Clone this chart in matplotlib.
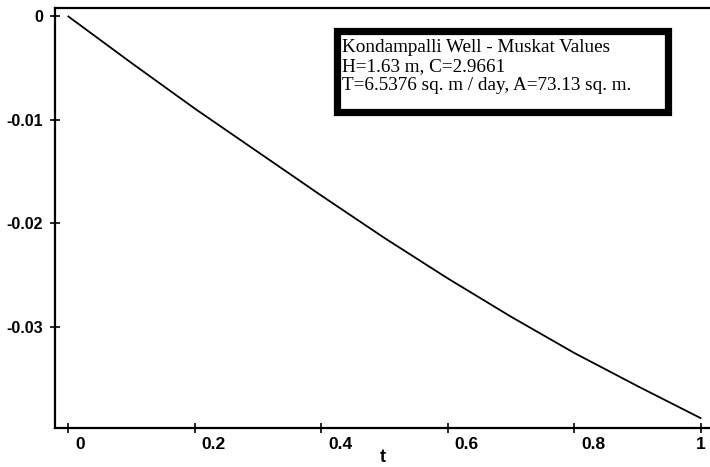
import matplotlib.pyplot as plt
import matplotlib.transforms as mtransforms
from matplotlib.patches import Rectangle
from matplotlib.ticker import FixedLocator, FuncFormatter

# valores
t = [0.0, 0.1, 0.2, 0.3, 0.4, 0.5, 0.6, 0.7, 0.8, 0.9, 1.0]
s = [0.0, -0.0045, -0.0089, -0.0131, -0.0173, -0.0214, -0.0253, -0.0290, -0.0325, -0.0357, -0.0388]

xticks = [0, 0.2, 0.4, 0.6, 0.8, 1.0]
yticks = [0, -0.01, -0.02, -0.03]
legend_lines = ["Kondampalli Well - Muskat Values",
                "H=1.63 m, C=2.9661",
                "T=6.5376 sq. m / day, A=73.13 sq. m."]

tick_font = ['Liberation Sans', 'DejaVu Sans']
box_font = ['Liberation Serif', 'DejaVu Serif']

fig = plt.figure(figsize=(7.1, 4.67), dpi=100)
ax = fig.add_axes([55/710, 1 - 428/467, 1 - 55/710, (428 - 8)/467])

ax.plot(t, s, color='black', linewidth=1.3)

ax.set_xlim(-0.0212, 1.015)
ax.set_ylim(-0.03976, 0.00082)

ax.spines['right'].set_visible(False)
for sp in ['left', 'bottom', 'top']:
    ax.spines[sp].set_linewidth(1.6)

ax.xaxis.set_major_locator(FixedLocator(xticks))
ax.yaxis.set_major_locator(FixedLocator(yticks))
fmt = FuncFormatter(lambda v, p: f'{v:g}')
ax.xaxis.set_major_formatter(fmt)
ax.yaxis.set_major_formatter(fmt)
ax.tick_params(direction='inout', length=7, width=1.2)
ax.tick_params(axis='y', pad=5)
ax.tick_params(axis='x', pad=3)
for lab in ax.get_yticklabels():
    lab.set_fontfamily(tick_font)
    lab.set_fontweight('bold')
    lab.set_fontsize(11.5)

# os rótulos do eixo x ficam um pouco à direita das marcas
shift = mtransforms.ScaledTranslation(7/100, 0, fig.dpi_scale_trans)
xlabs = ax.get_xticklabels()
for lab in xlabs:
    lab.set_fontfamily(tick_font)
    lab.set_fontweight('bold')
    lab.set_fontsize(12.5)
for lab in xlabs[:-1]:
    lab.set_horizontalalignment('left')
    lab.set_transform(lab.get_transform() + shift)

ax.set_xlabel('t', fontfamily=tick_font, fontweight='bold', fontsize=13, labelpad=-2)

# caixa de texto
fig.add_artist(Rectangle((336.5/710, 1 - 111.5/467), (667.5 - 336.5)/710, (111.5 - 30.5)/467,
                         transform=fig.transFigure, facecolor='white', edgecolor='black',
                         linewidth=5.2))
for i, line in enumerate(legend_lines):
    fig.text(342/710, 1 - (51.5 + 19.2*i)/467, line, fontfamily=box_font,
             fontsize=13.8, va='baseline', ha='left')

fig.savefig('out.png', dpi=100)
